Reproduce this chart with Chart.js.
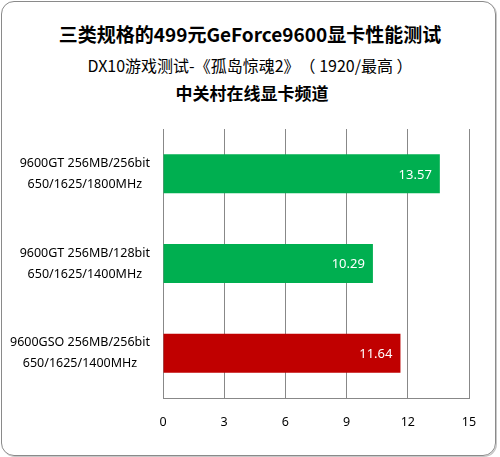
<!DOCTYPE html>
<html>
<head>
<meta charset="utf-8">
<script src="https://cdn.jsdelivr.net/npm/chart.js@4.4.1/dist/chart.umd.min.js"></script>
<style>
  html, body { margin: 0; padding: 0; background: #fff; }
  #wrap { position: relative; width: 500px; height: 457px; overflow: hidden; }
  #frame {
    position: absolute; left: 1px; top: 1px; width: 493px; height: 453px;
    border: 1px solid #8a8a8a; border-radius: 13px;
    box-shadow: 1px 1px 0 #c8c8c8;
  }
  .head {
    position: absolute; left: 0; width: 500px; text-align: center;
    font-family: "Noto Sans CJK SC", "Noto Sans", sans-serif; color: #000;
    white-space: pre; text-spacing-trim: space-all;
  }
  #t1 { top: 20px; font-size: 19px; font-weight: bold; line-height: 28px; }
  #t2 { top: 53px; font-size: 16px; line-height: 24px; }
  #t3 { top: 80px; font-size: 17px; font-weight: bold; line-height: 26px; left: 2px; }
  canvas { position: absolute; left: 0; top: 0; }
</style>
</head>
<body>
<div id="wrap">
  <div id="frame"></div>
  <div class="head" id="t1">三类规格的499元GeForce9600显卡性能测试</div>
  <div class="head" id="t2">DX10游戏测试-《孤岛惊魂2》（ 1920/最高 ）</div>
  <div class="head" id="t3">中关村在线显卡频道</div>
  <canvas id="chart" width="500" height="457"></canvas>
</div>
<script>
document.addEventListener("DOMContentLoaded", function() {
    // Dữ liệu biểu đồ
    const cardNames = [
        ['9600GT 256MB/256bit', '650/1625/1800MHz'],
        ['9600GT 256MB/128bit', '650/1625/1400MHz'],
        ['9600GSO 256MB/256bit', '650/1625/1400MHz']
    ];
    const fpsValues = [13.57, 10.29, 11.64];
    const barColors = ['#00AF50', '#00AF50', '#C00000'];
    const axisMax = 15;
    const axisStep = 3;

    const labelFont = '12.5px "Noto Sans", sans-serif';

    // Ghi giá trị vào cuối mỗi thanh + nhãn trục y (mỗi nhãn căn giữa theo dòng dài nhất của nó)
    const customLabels = {
        id: 'customLabels',
        afterDatasetsDraw(chart) {
            const ctx = chart.ctx;
            const meta = chart.getDatasetMeta(0);
            const yScale = chart.scales.y;
            ctx.save();
            ctx.font = '13px "Noto Sans", sans-serif';
            ctx.fillStyle = '#fff';
            ctx.textAlign = 'right';
            ctx.textBaseline = 'middle';
            meta.data.forEach((bar, i) => {
                ctx.fillText(fpsValues[i].toFixed(2), bar.x - 8, bar.y + 1);
            });

            ctx.font = labelFont;
            ctx.fillStyle = '#000';
            ctx.textAlign = 'center';
            cardNames.forEach((lines, i) => {
                const y = yScale.getPixelForValue(i);
                const widest = Math.max(...lines.map(l => ctx.measureText(l).width));
                const cx = yScale.right - 13 - widest / 2;
                ctx.fillText(lines[0], cx, y - 10.5);
                ctx.fillText(lines[1], cx, y + 10.5);
            });
            ctx.restore();
        }
    };

    new Chart(document.getElementById('chart').getContext('2d'), {
        type: 'bar',
        data: {
            labels: cardNames,
            datasets: [{
                data: fpsValues,
                backgroundColor: barColors,
                borderWidth: 0,
                barPercentage: 0.435,
                categoryPercentage: 1
            }]
        },
        options: {
            indexAxis: 'y',
            responsive: false,
            animation: false,
            layout: { padding: { top: 129, right: 31, bottom: 0, left: 0 } },
            scales: {
                x: {
                    min: 0,
                    max: axisMax,
                    ticks: {
                        stepSize: axisStep,
                        padding: 17,
                        color: '#000',
                        font: { family: '"Noto Sans", sans-serif', size: 12.5 }
                    },
                    grid: { color: '#888', lineWidth: 1, drawTicks: false },
                    border: { display: true, color: '#888', width: 1 },
                    afterFit(scale) { scale.height = 59; }
                },
                y: {
                    ticks: { display: false },
                    grid: { display: false, drawTicks: false },
                    border: { display: true, color: '#888', width: 1 },
                    afterFit(scale) { scale.width = 163; }
                }
            },
            plugins: {
                legend: { display: false },
                tooltip: { enabled: false }
            }
        },
        plugins: [customLabels]
    });
});
</script>
</body>
</html>
